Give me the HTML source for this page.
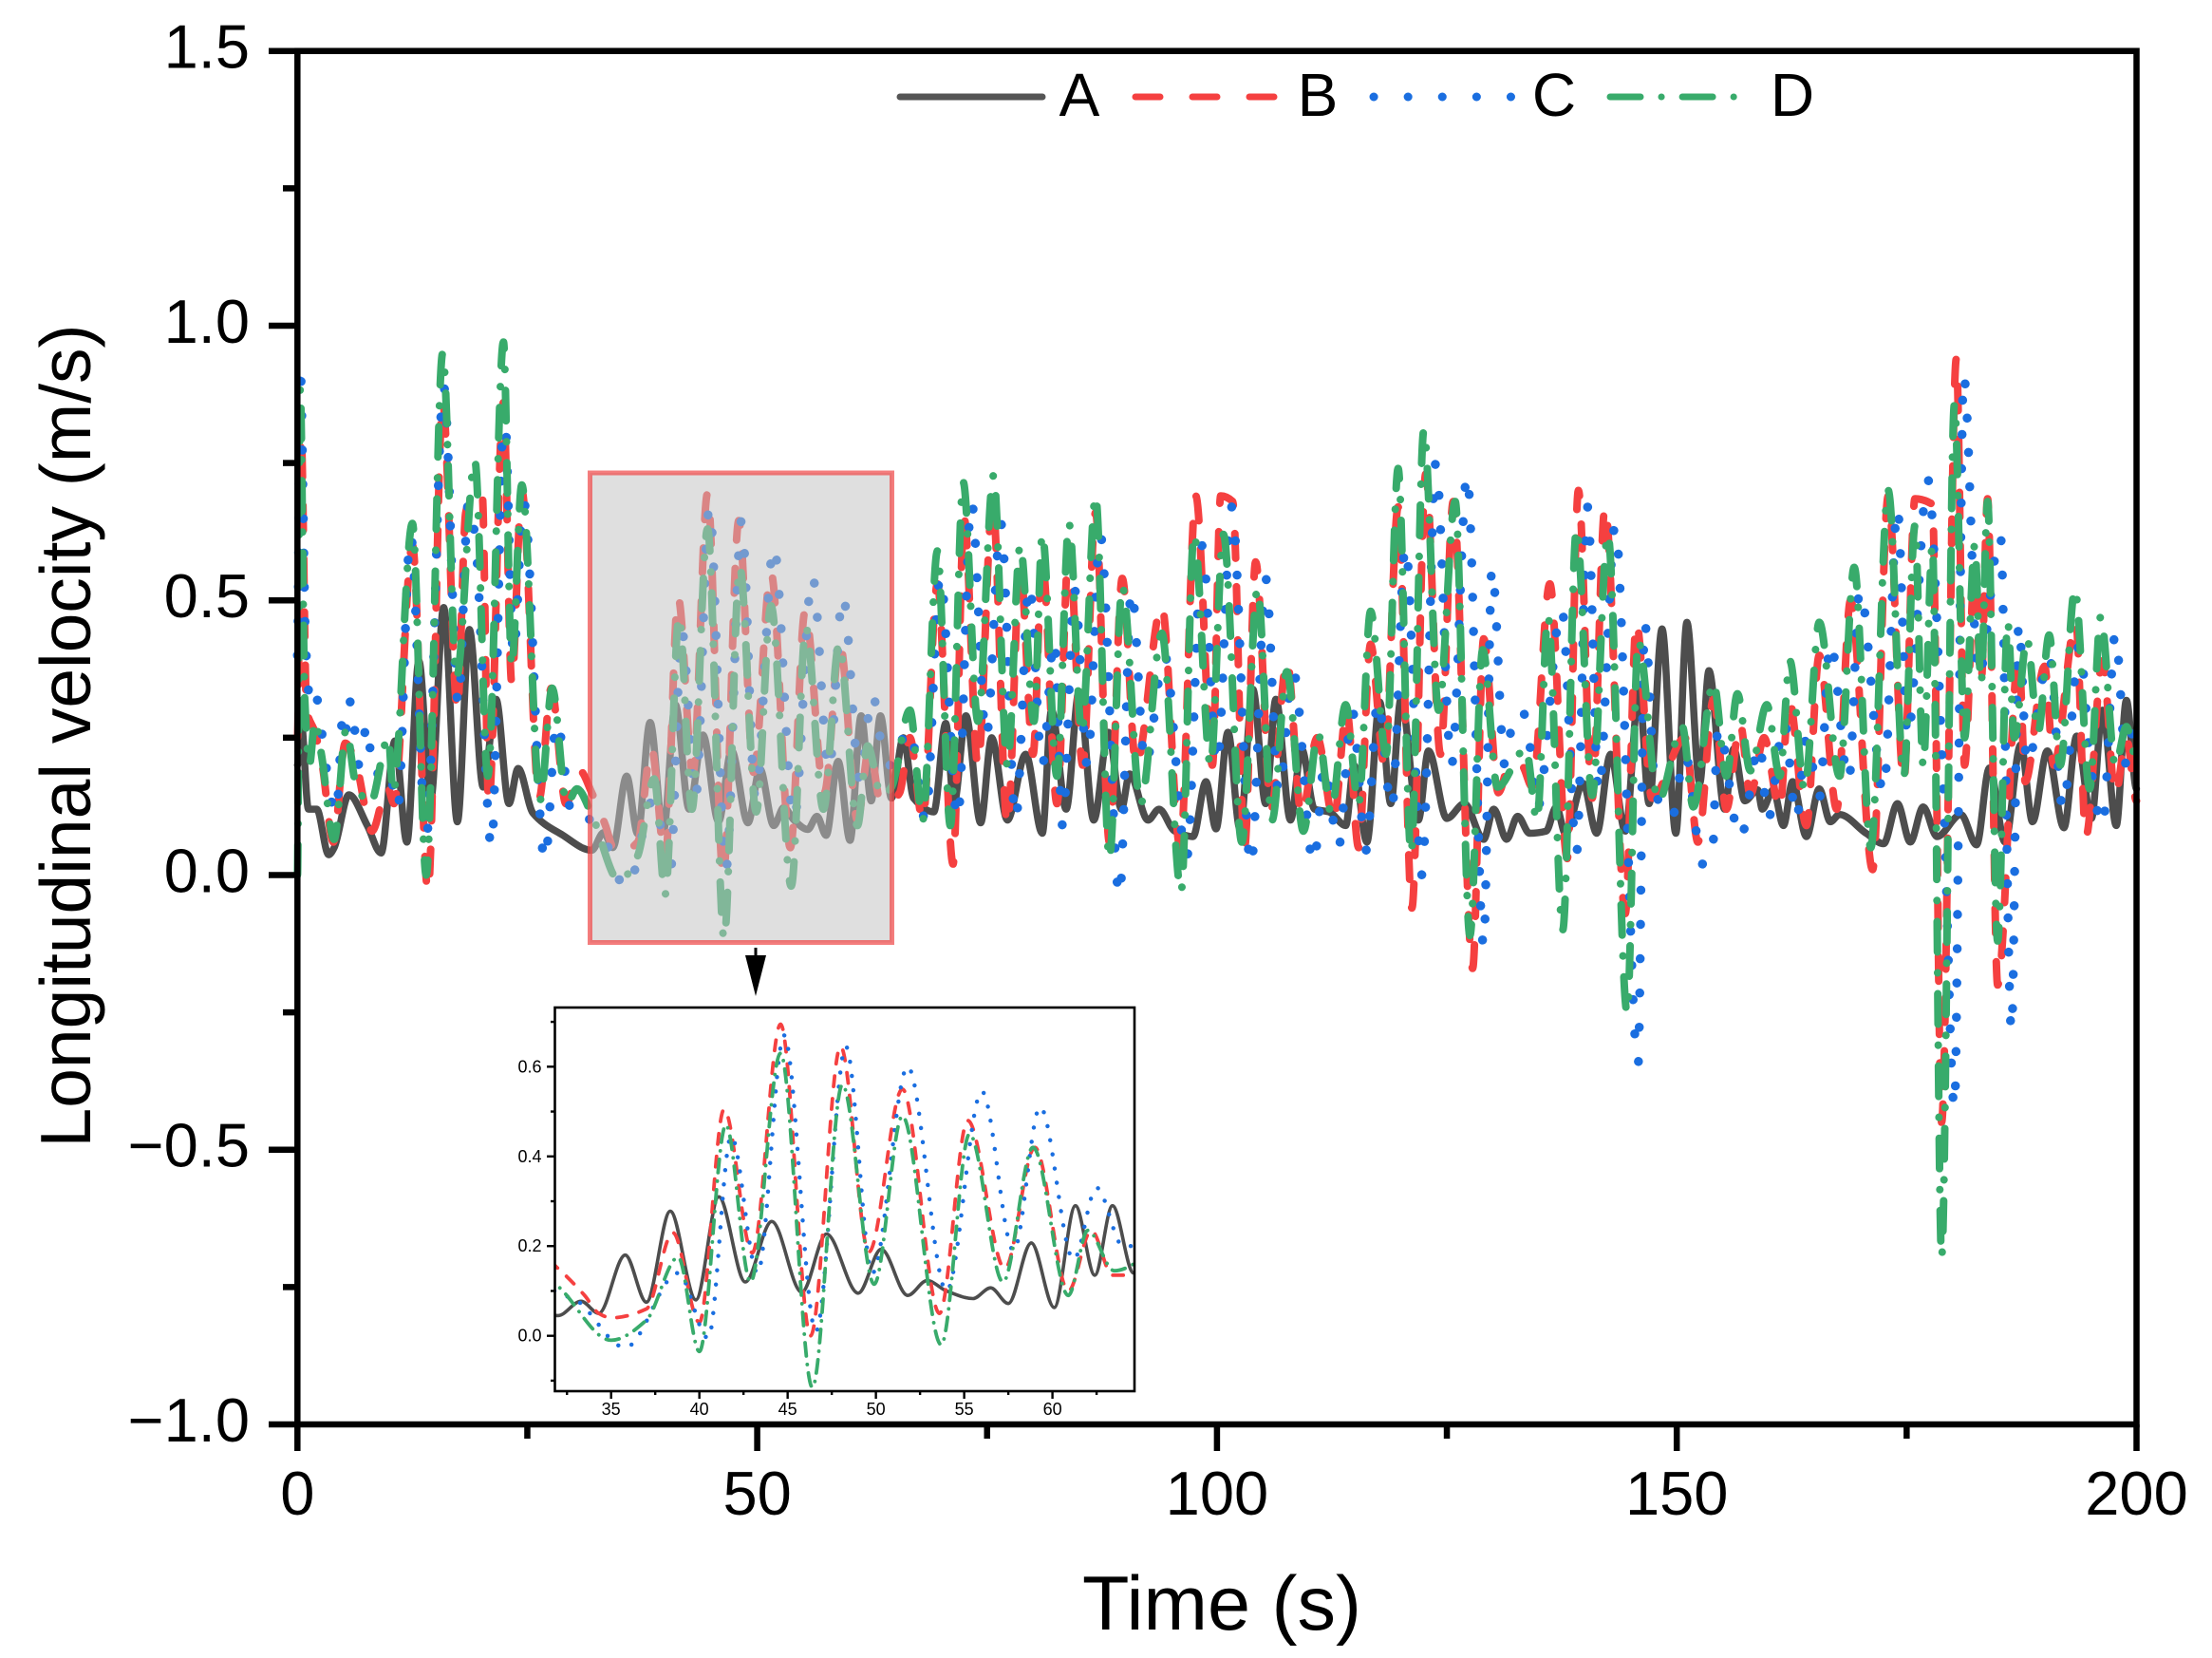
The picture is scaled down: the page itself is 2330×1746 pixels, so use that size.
<!DOCTYPE html>
<html lang="en">
<head>
<meta charset="utf-8">
<title>Longitudinal velocity chart</title>
<style>
html,body{margin:0;padding:0;background:#fff;}
svg{display:block;font-family:"Liberation Sans",Arial,sans-serif;}
</style>
</head>
<body>
<svg id="chart" xmlns="http://www.w3.org/2000/svg" width="2330" height="1746" viewBox="0 0 2330 1746">
  <defs>
    <clipPath id="inset-clip"><rect x="584.5" y="1061" width="610.5" height="404"/></clipPath>
  </defs>
  <rect x="0" y="0" width="2330" height="1746" fill="#fff"/>
  <g id="main-lines"></g>
  <g id="main-axes"></g>
  <rect x="621.5" y="498" width="318" height="494.5" fill="rgb(195,195,195)" fill-opacity="0.53" stroke="rgb(240,70,70)" stroke-opacity="0.7" stroke-width="5"/>
  <g>
    <line x1="796" y1="998" x2="796" y2="1008" stroke="#000" stroke-width="3"/>
    <polygon points="785,1006 807,1006 796,1049" fill="#000"/>
  </g>
  <rect x="584.5" y="1061" width="610.5" height="404" fill="#fff"/>
  <g id="inset-lines" clip-path="url(#inset-clip)"></g>
  <g id="inset-axes"></g>
  <g>
    <line x1="948" y1="102" x2="1098" y2="102" stroke="#555" stroke-width="7" stroke-linecap="round"/>
    <text x="1137" y="122" font-size="64" text-anchor="middle">A</text>
    <line x1="1196" y1="102" x2="1344" y2="102" stroke="#f54040" stroke-width="7" stroke-linecap="round" stroke-dasharray="26 34"/>
    <text x="1388" y="122" font-size="64" text-anchor="middle">B</text>
    <line x1="1447" y1="102" x2="1592" y2="102" stroke="#1a6ee0" stroke-width="9" stroke-linecap="round" stroke-dasharray="0.1 36"/>
    <text x="1637" y="122" font-size="64" text-anchor="middle">C</text>
    <line x1="1696" y1="102" x2="1830" y2="102" stroke="#38ab6b" stroke-width="7" stroke-linecap="round" stroke-dasharray="32 22 0.1 22"/>
    <text x="1888" y="122" font-size="64" text-anchor="middle">D</text>
  </g>
  <text x="1287" y="1716" font-size="81" text-anchor="middle">Time (s)</text>
  <text transform="translate(95,775) rotate(-90)" font-size="75" text-anchor="middle">Longitudinal velocity (m/s)</text>
</svg>
<script>
const aTimes = [0,0.4,1.2,2.1,3.4,4,5.6,7.6,9.1,10.6,11.9,13.2,14.5,15.9,17.4,18.7,20.2,21.6,23,24,25.6,28.8,32,33.3,34.3,35.8,37,38.35,39.8,41.1,42.6,44.1,45.8,47.2,49,50.3,51.8,52.9,54,55.5,56.5,57.5,58.8,60.1,61.3,62.4,63.4,64.6,65.9,67,69.2,70.5,71.4,72.7,74.3,75.5,77.2,79.2,81,82,83.6,85,86.6,88.2,89.6,90.5,92.5,93.7,95.4,97.4,98.8,99.9,101.2,102.5,103.9,105.3,106.4,108,109.2,110.6,112.2,114,114.9,116.3,117.7,118.9,120,121.9,123,125,126.9,129,130.1,131.5,132.7,134,135.8,136.9,137.9,139.8,141.3,142.8,144.4,145.9,147,148.4,149.9,151.1,152.5,153.5,155.2,156.2,157.4,158.8,159.3,160.5,161.6,162.6,164.1,165.5,166.7,167.7,170.6,172.5,174,175.4,176.8,178.3,180.9,182.6,184,185.7,187.4,188.7,190.3,192.1,193.5,195.1,196.3,197.8,198.9,200];
const aValues = [0.2,0.28,0.12,0.12,0.037,0.05,0.146,0.09,0.04,0.244,0.06,0.39,0.137,0.487,0.097,0.447,0.16,0.32,0.13,0.194,0.113,0.073,0.045,0.077,0.05,0.18,0.075,0.278,0.08,0.31,0.12,0.255,0.097,0.227,0.095,0.193,0.09,0.123,0.1,0.083,0.107,0.072,0.207,0.063,0.29,0.135,0.29,0.14,0.25,0.14,0.115,0.276,0.13,0.29,0.095,0.25,0.1,0.22,0.076,0.3,0.12,0.334,0.1,0.26,0.12,0.184,0.1,0.12,0.08,0.07,0.17,0.084,0.26,0.084,0.338,0.13,0.32,0.1,0.23,0.12,0.115,0.09,0.2,0.06,0.315,0.13,0.32,0.1,0.226,0.103,0.13,0.065,0.12,0.065,0.107,0.076,0.08,0.124,0.075,0.167,0.076,0.22,0.08,0.334,0.13,0.448,0.076,0.46,0.167,0.372,0.12,0.23,0.135,0.155,0.12,0.155,0.09,0.17,0.07,0.157,0.097,0.11,0.076,0.057,0.13,0.06,0.124,0.07,0.11,0.055,0.195,0.06,0.237,0.097,0.226,0.086,0.253,0.103,0.3,0.09,0.318,0.157];

const bTimes = [0,0.4,1,1.9,2.7,3.9,5.2,6.4,8.1,9.8,10.5,12.5,14.2,15.8,17.4,18.3,19,20.1,20.8,22.4,23.3,24.4,26.3,27.6,29.2,30.7,32,33.5,34.3,35,37,38.5,40,41.4,43,44.6,46.3,48,49.6,51.5,53.6,55.2,57.3,59,60.9,62.2,63.4,64.6,65.5,66.6,68,69.6,71.3,72.5,74,75.6,77.2,78.6,80,81,82.6,83.9,85.4,86.8,88.3,89.7,91.2,94,96,97.7,99.5,100.4,101.7,103,104.2,105.9,107.6,109.2,110.9,112.7,114.1,115.4,116.7,118.2,119.7,121.2,122.7,124.3,125.7,127.8,129,130.6,131.8,133.1,134.3,136.2,138.1,139.3,140.8,142.2,144.4,145.6,147.3,150.9,152.3,154,155.4,156.9,158,159.5,161.2,162.2,164.1,165.5,167.4,168.9,171.3,173,174.7,175.9,177.8,178.8,180.4,181.3,182.4,183.1,183.8,184.9,187.2,187.9,190,191,193.4,194.5,196.3,197.7,198.9,200];
const bValues = [0.25,0.8,0.3,0.26,0.2,0.06,0.24,0.2,0.08,0.16,0.13,0.6,-0.03,0.86,0.3,0.66,0.69,0.69,0.13,0.86,0.35,0.7,0.14,0.34,0.13,0.19,0.15,0.09,0.05,0.04,0.06,0.23,0.03,0.505,0.185,0.695,0,0.645,0.187,0.55,0.05,0.48,0.15,0.42,0.1,0.235,0.135,0.135,0.15,0.25,0.1,0.53,0.02,0.65,0.2,0.68,0.09,0.56,0.22,0.57,0.13,0.6,0.2,0.66,0.06,0.54,0.2,0.49,0.05,0.69,0.2,0.69,0.68,0.05,0.57,0.12,0.39,0.11,0.25,0.1,0.3,0.05,0.42,0.2,0.67,-0.06,0.73,0.22,0.68,-0.17,0.43,0.15,0.2,0.2,0.16,0.53,0.03,0.7,0.14,0.67,-0.07,0.46,0.14,0.25,0.06,0.32,0.12,0.275,0.146,0.25,0.12,0.32,0.09,0.4,0.12,0.5,0.01,0.69,0.17,0.685,0.675,-0.45,0.94,0.2,0.55,0.35,0.685,-0.2,0.4,0.17,0.38,0.2,0.46,0.07,0.39,0.146,0.25,0.135];

const cTimes = [0,0.3,0.9,1.5,2.1,3,4.2,5,5.4,5.8,6.7,7.6,8.2,9.9,10.9,12.3,14,15.9,17.5,18.6,19.4,21.1,22.5,23.5,24.6,26.9,28.2,29.9,31,32,33,35.8,38.8,40.5,41.8,43.3,44.8,46.6,48.3,49.8,51.8,54,56,57.8,59.3,61.2,62.5,64,65.3,66.3,68.3,69.9,71.8,73.3,74.9,76.5,78.1,79.6,81,82.3,83.2,84.5,85.9,87.3,89.4,90.7,92.2,94.3,96.7,98.4,100,101.6,103.7,105.3,106.7,108.3,110.5,111.7,113.2,114.7,116.2,117.5,119,120.5,122.3,123.8,125.5,127.2,129,129.9,131.3,132.4,133.6,134.8,137.5,139.1,140.3,141.5,143.3,145.8,146.5,147.7,149.4,150.9,152.8,153.8,154.5,156.9,159,159.9,161.7,163,164.1,165.5,166.7,168.7,169.9,172.5,174,175.1,177.3,179,180.2,181.2,182.8,185.2,186.4,187.2,188.1,190.5,192,193.8,195,196.3,197.7,198.9,200];
const cValues = [0.4,0.93,0.42,0.3,0.32,0.21,0.11,0.3,0.26,0.32,0.2,0.276,0.18,0.2,0.12,0.62,0.065,0.89,0.31,0.68,0.6,0.05,0.85,0.4,0.68,0.025,0.28,0.11,0.12,0.095,0.08,-0.026,0.14,-0.005,0.445,0.14,0.67,0.01,0.645,0.14,0.6,0.1,0.545,0.19,0.51,0.17,0.33,0.2,0.2,0.3,0.1,0.545,0.1,0.68,0.25,0.64,0.1,0.53,0.2,0.43,0.09,0.52,0.2,0.62,-0.04,0.52,0.2,0.4,0.03,0.6,0.2,0.67,0.015,0.54,0.15,0.37,0.02,0.2,0.05,0.3,0.045,0.32,0.12,0.6,0,0.75,0.2,0.73,-0.13,0.56,0.2,0.3,0.29,0.12,0.485,0.04,0.67,0.15,0.636,-0.345,0.46,0.15,0.1,0.22,0.02,0.02,0.27,0.065,0.24,0.1,0.28,0.1,0.25,0.14,0.425,0.17,0.52,0.15,0.67,0.25,0.72,0.15,-0.425,0.91,0.36,0.62,-0.285,0.46,0.2,0.4,0.12,0.42,0.2,0.087,0.44,0.2,0.3];

const dTimes = [0,0.3,0.8,1.3,1.9,2.6,4,5.3,6.3,7.9,9.9,10.4,12.5,14,15.8,17.3,19.3,20.7,22.4,23.3,24.4,26.4,27.7,29.3,30.4,32,35,37,38.8,40,41.5,42.9,44.6,46.4,48.1,49.9,51.5,53.7,55.3,57.2,58.9,60.9,62,63.5,64.6,66.6,68,69.6,71,72.4,74,75.7,77.2,78.6,80.1,81,82.6,83.9,85.3,86.8,88.3,89.7,91.7,94,96.1,97.5,99.3,100.7,102.7,104.4,106,107.6,109.4,111,112.4,114,115.4,116.7,118.4,119.7,121.1,122.5,124.1,125.9,127.5,128.9,130.5,133.6,134.8,136,137.6,139.1,140.8,142.5,144.6,145.8,148,150.6,151.8,154,155.4,156.6,158,159.8,161.2,162.3,163.9,165.5,167.7,169.3,171.1,173,174.7,175.9,176.8,177.8,178.8,180.2,181.3,182.4,183.1,183.8,184.9,186,186.7,188.1,189.3,190.5,191.7,193.3,194.9,196.1,197.7,198.9,200];
const dValues = [0,0.885,0.32,0.2,0.28,0.22,0.065,0.265,0.17,0.13,0.25,0.15,0.64,0,0.95,0.36,0.754,0.18,0.97,0.38,0.71,0.137,0.34,0.13,0.157,0.11,-0.01,0.035,0.175,-0.035,0.47,0.12,0.63,-0.115,0.56,0.115,0.49,-0.02,0.45,0.12,0.42,0.09,0.235,0.145,0.16,0.3,0.1,0.59,0.09,0.715,0.28,0.727,0.2,0.6,0.28,0.62,0.18,0.64,0.26,0.69,0.03,0.525,0.13,0.44,-0.03,0.62,0.2,0.62,0.06,0.52,0.1,0.37,0.08,0.257,0.115,0.31,0.13,0.48,0.22,0.74,0.04,0.81,0.3,0.68,-0.11,0.41,0.16,0.23,0.1,0.47,-0.1,0.63,0.145,0.62,-0.25,0.426,0.135,0.27,0.124,0.35,0.18,0.33,0.19,0.31,0.18,0.39,0.157,0.46,0.18,0.56,0.05,0.7,0.18,0.636,0.2,0.6,-0.695,0.857,0.25,0.6,0.35,0.68,-0.12,0.46,0.25,0.43,0.26,0.437,0.2,0.52,0.157,0.47,0.2,0.27,0.21];

const mainXTickLabels = ["0","50","100","150","200"];
const mainXMajorTicks = [0,50,100,150,200];
const mainXMinorTicks = [25,75,125,175];
const mainYTickLabels = ["\u22121.0","\u22120.5","0.0","0.5","1.0","1.5"];
const mainYMajorTicks = [-1,-0.5,0,0.5,1,1.5];
const mainYMinorTicks = [-0.75,-0.25,0.25,0.75,1.25];
const insetXTickLabels = ["35","40","45","50","55","60"];
const insetXMajorTicks = [35,40,45,50,55,60];
const insetXMinorTicks = [32.5,37.5,42.5,47.5,52.5,57.5,62.5];
const insetYTickLabels = ["0.0","0.2","0.4","0.6"];
const insetYMajorTicks = [0,0.2,0.4,0.6];
const insetYMinorTicks = [-0.1,0.1,0.3,0.5,0.7];

const NS = "http://www.w3.org/2000/svg";

function mainX(t){ return 313.3 + (t - 0) * (2250.5 - 313.3) / 200; }
function mainY(v){ return 1500 - (v + 1) * (1500 - 53.7) / 2.5; }
function insetX(t){ return 643.7 + (t - 35) * (1108.6 - 643.7) / 25; }
function insetY(v){ return 1406.7 - v * 472.3; }

function make(tag, attrs, parent){
  const el = document.createElementNS(NS, tag);
  for (const k in attrs) el.setAttribute(k, attrs[k]);
  parent.appendChild(el);
  return el;
}

function curvePath(ts, vs, fx, fy){
  const n = Math.min(ts.length, vs.length);
  const xs = [], ys = [];
  for (let i = 0; i < n; i++){ xs.push(fx(ts[i])); ys.push(fy(vs[i])); }
  const m = [];
  for (let i = 0; i < n; i++){
    if (i === 0 || i === n - 1){ m.push(0); continue; }
    const d0 = (ys[i] - ys[i-1]) / (xs[i] - xs[i-1]);
    const d1 = (ys[i+1] - ys[i]) / (xs[i+1] - xs[i]);
    m.push(d0 * d1 <= 0 ? 0 : 2 * d0 * d1 / (d0 + d1));
  }
  let d = "M" + xs[0].toFixed(1) + " " + ys[0].toFixed(1);
  for (let i = 1; i < n; i++){
    const h = (xs[i] - xs[i-1]) / 3;
    d += "C" + (xs[i-1] + h).toFixed(1) + " " + (ys[i-1] + m[i-1] * h).toFixed(1) + " "
       + (xs[i] - h).toFixed(1) + " " + (ys[i] - m[i] * h).toFixed(1) + " "
       + xs[i].toFixed(1) + " " + ys[i].toFixed(1);
  }
  return d;
}

const mainLines = document.getElementById("main-lines");
const insetLines = document.getElementById("inset-lines");
const mainAxes = document.getElementById("main-axes");
const insetAxes = document.getElementById("inset-axes");

function seriesAttrs(d, color, width, dash){
  const a = {d: d, fill: "none", stroke: color, "stroke-width": width, "stroke-linecap": "round", "stroke-linejoin": "round"};
  if (dash) a["stroke-dasharray"] = dash;
  return a;
}

const mainA = make("path", seriesAttrs(curvePath(aTimes, aValues, mainX, mainY), "#4d4d4d", 7.5, ""), mainLines);


const mainB = make("path", seriesAttrs(curvePath(bTimes, bValues, mainX, mainY), "#f54040", 8, "26 30"), mainLines);


const mainC = make("path", seriesAttrs(curvePath(cTimes, cValues, mainX, mainY), "#1a6ee0", 9.5, "0.1 36"), mainLines);


const mainD = make("path", seriesAttrs(curvePath(dTimes, dValues, mainX, mainY), "#38ab6b", 8, "32 22 0.1 22"), mainLines);



const insetA = make("path", seriesAttrs(curvePath(aTimes, aValues, insetX, insetY), "#4d4d4d", 3.6, ""), insetLines);


const insetB = make("path", seriesAttrs(curvePath(bTimes, bValues, insetX, insetY), "#f54040", 3.8, "11 13"), insetLines);


const insetC = make("path", seriesAttrs(curvePath(cTimes, cValues, insetX, insetY), "#1a6ee0", 4.4, "0.1 15"), insetLines);


const insetD = make("path", seriesAttrs(curvePath(dTimes, dValues, insetX, insetY), "#38ab6b", 3.8, "14 9 0.1 9"), insetLines);



const mainFrame = make("rect", {x: 313.3, y: 53.7, width: 1937.2, height: 1446.3, fill: "none", stroke: "#000", "stroke-width": 6.5}, mainAxes);



mainXMajorTicks.forEach(function(t, i){
  const tick = make("line", {x1: mainX(t), x2: mainX(t), y1: 1500, y2: 1528, stroke: "#000", "stroke-width": 6.5}, mainAxes);
  
  
  const label = make("text", {x: mainX(t), y: 1595, "font-size": 65, "text-anchor": "middle"}, mainAxes);
  label.textContent = mainXTickLabels[i];
  
  
});
mainXMinorTicks.forEach(function(t){
  const tick = make("line", {x1: mainX(t), x2: mainX(t), y1: 1500, y2: 1515, stroke: "#000", "stroke-width": 6.5}, mainAxes);
  
  
});
mainYMajorTicks.forEach(function(v, i){
  const tick = make("line", {x1: 283, x2: 313.3, y1: mainY(v), y2: mainY(v), stroke: "#000", "stroke-width": 6.5}, mainAxes);
  
  
  const label = make("text", {x: 263, y: mainY(v) + 18, "font-size": 65, "text-anchor": "end"}, mainAxes);
  label.textContent = mainYTickLabels[i];
  
  
});
mainYMinorTicks.forEach(function(v){
  const tick = make("line", {x1: 298, x2: 313.3, y1: mainY(v), y2: mainY(v), stroke: "#000", "stroke-width": 6.5}, mainAxes);
  
  
});

const insetFrame = make("rect", {x: 584.5, y: 1061, width: 610.5, height: 404, fill: "none", stroke: "#000", "stroke-width": 2.6}, insetAxes);



insetXMajorTicks.forEach(function(t, i){
  const tick = make("line", {x1: insetX(t), x2: insetX(t), y1: 1465, y2: 1473, stroke: "#000", "stroke-width": 2.4}, insetAxes);
  
  
  const label = make("text", {x: insetX(t), y: 1490, "font-size": 18, "text-anchor": "middle"}, insetAxes);
  label.textContent = insetXTickLabels[i];
  
  
});
insetXMinorTicks.forEach(function(t){
  const tick = make("line", {x1: insetX(t), x2: insetX(t), y1: 1465, y2: 1469, stroke: "#000", "stroke-width": 2.4}, insetAxes);
  
  
});
insetYMajorTicks.forEach(function(v, i){
  const tick = make("line", {x1: 576, x2: 584.5, y1: insetY(v), y2: insetY(v), stroke: "#000", "stroke-width": 2.4}, insetAxes);
  
  
  const label = make("text", {x: 570.5, y: insetY(v) + 6, "font-size": 18, "text-anchor": "end"}, insetAxes);
  label.textContent = insetYTickLabels[i];
  
  
});
insetYMinorTicks.forEach(function(v){
  const tick = make("line", {x1: 580, x2: 584.5, y1: insetY(v), y2: insetY(v), stroke: "#000", "stroke-width": 2.4}, insetAxes);
  
  
});
</script>
</body>
</html>
